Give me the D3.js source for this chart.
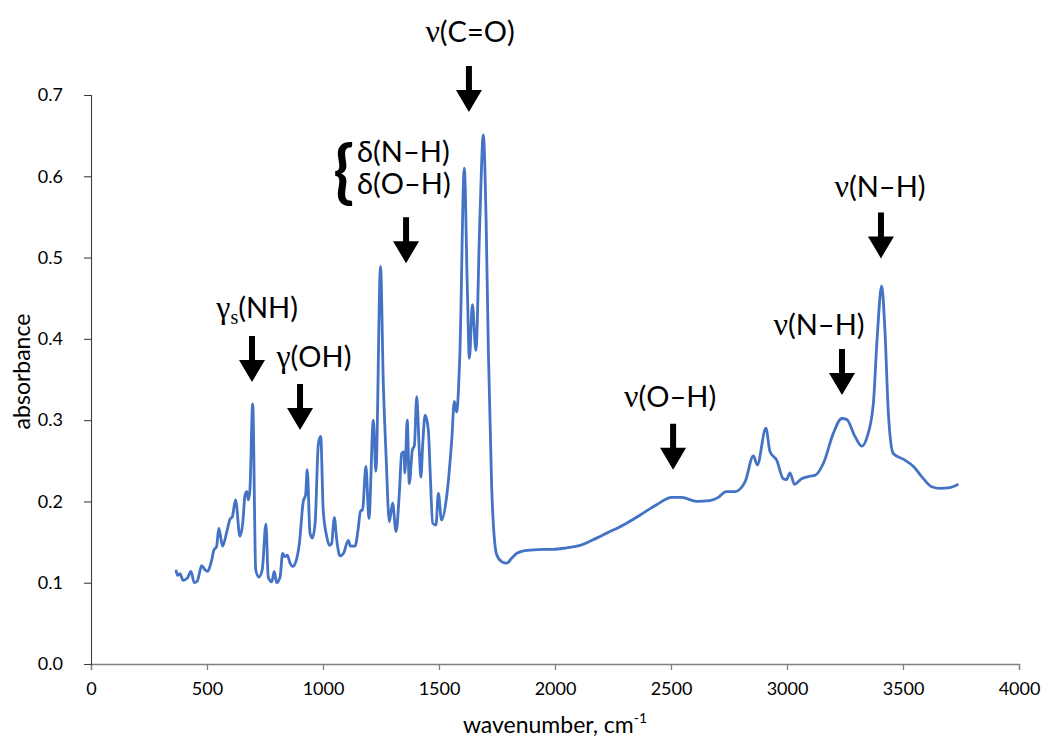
<!DOCTYPE html>
<html>
<head>
<meta charset="utf-8">
<script src="https://cdn.jsdelivr.net/npm/d3@7"></script>
<style>
  html, body { margin: 0; padding: 0; background: #fff; }
  svg { display: block; }
  text { font-family: Lato, "Open Sans", sans-serif; }
</style>
</head>
<body>
<div id="chart"></div>
<script>
// ---- data ----
const wavenumber = [366,373,383,397,416,431,445,458,477,491,503,517,531,541,551,567,584,599,609,623,642,654,664,672,678,685,697,710,724,738,754,764,779,790,800,815,826,836,846,858,869,883,898,915,925,932,944,954,966,980,990,1001,1016,1027,1037,1049,1059,1073,1088,1109,1119,1138,1152,1162,1170,1185,1198,1217,1228,1248,1260,1272,1286,1300,1315,1329,1339,1349,1353,1363,1372,1385,1394,1404,1415,1422,1430,1440,1454,1461,1473,1487,1497,1511,1533,1555,1566,1576,1590,1609,1622,1631,1644,1659,1676,1691,1703,1713,1727,1748,1770,1792,1813,1835,1860,1892,1950,1993,2050,2108,2165,2223,2295,2366,2438,2503,2546,2610,2668,2704,2737,2776,2819,2855,2872,2909,2927,2955,2984,2998,3013,3032,3063,3099,3120,3157,3200,3236,3257,3293,3322,3346,3372,3389,3408,3422,3437,3458,3501,3545,3588,3624,3659,3702,3739];
const absorbance = [0.116,0.109,0.111,0.103,0.106,0.114,0.100,0.102,0.121,0.116,0.114,0.124,0.141,0.144,0.167,0.145,0.161,0.178,0.181,0.202,0.157,0.173,0.208,0.212,0.202,0.214,0.320,0.116,0.107,0.116,0.172,0.107,0.101,0.114,0.100,0.107,0.136,0.132,0.134,0.124,0.120,0.126,0.148,0.200,0.208,0.239,0.161,0.155,0.173,0.271,0.280,0.189,0.157,0.146,0.148,0.180,0.153,0.133,0.136,0.152,0.145,0.145,0.167,0.189,0.189,0.243,0.179,0.300,0.237,0.489,0.345,0.255,0.175,0.198,0.163,0.210,0.259,0.261,0.235,0.300,0.222,0.263,0.269,0.329,0.263,0.230,0.271,0.306,0.288,0.243,0.173,0.171,0.210,0.177,0.206,0.276,0.323,0.310,0.382,0.610,0.464,0.376,0.442,0.386,0.546,0.651,0.546,0.382,0.218,0.135,0.126,0.124,0.130,0.136,0.139,0.140,0.141,0.141,0.143,0.146,0.153,0.161,0.171,0.183,0.196,0.205,0.205,0.200,0.201,0.205,0.212,0.212,0.224,0.256,0.245,0.290,0.261,0.251,0.228,0.227,0.235,0.221,0.228,0.231,0.232,0.247,0.284,0.302,0.301,0.280,0.268,0.280,0.320,0.403,0.465,0.411,0.308,0.259,0.252,0.243,0.228,0.218,0.216,0.217,0.221];

const xTicks = [0,500,1000,1500,2000,2500,3000,3500,4000];
const yTicks = [0,0.1,0.2,0.3,0.4,0.5,0.6,0.7];

// annotation arrows: tip position in data units
const arrowW = [694, 901, 1358, 1629, 2509, 3237, 3405];
const arrowA = [0.347, 0.288, 0.493, 0.679, 0.239, 0.331, 0.499];
// annotation labels (text anchor position in data units)
const labelGreek = ["γ", "γ", "", "ν", "ν", "ν", "ν"];
const labelSub   = ["s", "", "", "", "", "", ""];
const labelRest  = ["(NH)", "(OH)", "", "(C=O)", "(O–H)", "(N–H)", "(N–H)"];
const labelW = [716, 961, 0, 1634, 2496, 3138, 3401];
const labelA = [0.426, 0.365, 0, 0.765, 0.316, 0.405, 0.574];
const deltaLines = ["δ(N–H)", "δ(O–H)"];
const deltaW = 1147;
const deltaA = [0.618, 0.578];

// ---- layout ----
const W = 1044, H = 739;
const margin = {left: 91, right: 25, top: 95, bottom: 75};
const svg = d3.select("#chart").append("svg").attr("width", W).attr("height", H);

const x = d3.scaleLinear().domain([0, 4000]).range([margin.left, W - margin.right]);
const y = d3.scaleLinear().domain([0, 0.7]).range([H - margin.bottom, margin.top]);

// axes
const xAxis = d3.axisBottom(x).tickValues(xTicks).tickFormat(d3.format("d")).tickSizeOuter(0).tickSize(6).tickPadding(12);
const gx = svg.append("g").attr("transform", `translate(0,${y(0)})`).call(xAxis);
gx.select(".domain").attr("stroke", "#808080").attr("stroke-width", 1.3);
gx.selectAll(".tick line").attr("stroke", "#808080").attr("stroke-width", 1.3);
gx.selectAll(".tick text").attr("font-size", 18).attr("fill", "#000").attr("font-family", "Lato, sans-serif");

const yAxis = d3.axisLeft(y).tickValues(yTicks).tickFormat(d3.format(".1f")).tickSizeOuter(0).tickSize(7).tickPadding(21);
const gy = svg.append("g").attr("transform", `translate(${x(0)},0)`).call(yAxis);
gy.select(".domain").attr("stroke", "#404040").attr("stroke-width", 1.1);
gy.selectAll(".tick line").attr("stroke", "#404040").attr("stroke-width", 1.1);
gy.selectAll(".tick text").attr("font-size", 18).attr("fill", "#000").attr("font-family", "Lato, sans-serif");

// axis titles
const xt = svg.append("text").attr("x", (x(0) + x(4000)) / 2 + 0).attr("y", H - 6)
  .attr("text-anchor", "middle").attr("font-size", 23).attr("fill", "#000");
xt.append("tspan").text("wavenumber, cm");
xt.append("tspan").attr("font-size", 14).attr("dy", -10).text("-1");

svg.append("text").attr("transform", `translate(30,${(y(0) + y(0.7)) / 2 - 8}) rotate(-90)`)
  .attr("text-anchor", "middle").attr("font-size", 23).attr("fill", "#000").text("absorbance");

// spectrum line
const data = wavenumber.map((w, i) => [w, absorbance[i]]);
const line = d3.line().x(d => x(d[0])).y(d => y(d[1])).curve(d3.curveMonotoneX);
svg.append("path").datum(data).attr("d", line)
  .attr("fill", "none").attr("stroke", "#4472C4").attr("stroke-width", 2.8).attr("stroke-linejoin", "round");

// arrows
const arrowLen = 46, headW = 26, headH = 22, shaftW = 6;
arrowW.forEach((w, i) => {
  const tx = x(w), ty = y(arrowA[i]);
  const p = `M${tx - shaftW / 2},${ty - arrowLen} L${tx + shaftW / 2},${ty - arrowLen} L${tx + shaftW / 2},${ty - headH}
             L${tx + headW / 2},${ty - headH} L${tx},${ty} L${tx - headW / 2},${ty - headH} L${tx - shaftW / 2},${ty - headH} Z`;
  svg.append("path").attr("d", p).attr("fill", "#000");
});

// labels
const fs = 29;
labelGreek.forEach((g, i) => {
  if (!labelRest[i]) return;
  const t = svg.append("text").attr("x", x(labelW[i])).attr("y", y(labelA[i]))
    .attr("text-anchor", "middle").attr("font-size", fs).attr("fill", "#000");
  t.append("tspan").attr("font-family", "'Liberation Serif', serif").attr("font-size", fs + 3).text(g);
  if (labelSub[i]) {
    t.append("tspan").attr("font-family", "'Liberation Serif', serif").attr("font-size", 20).attr("dy", 6).text(labelSub[i]);
    t.append("tspan").attr("dy", -6).text(labelRest[i]);
  } else {
    t.append("tspan").text(labelRest[i]);
  }
});
deltaLines.forEach((s, i) => {
  svg.append("text").attr("x", x(deltaW)).attr("y", y(deltaA[i]))
    .attr("font-size", fs).attr("fill", "#000").text(s);
});
// brace
svg.append("text").attr("x", x(deltaW) - 3).attr("y", y((deltaA[0] + deltaA[1]) / 2) + 17)
  .attr("text-anchor", "end").attr("font-size", 68).attr("font-weight", "bold")
  .attr("font-family", "'DejaVu Sans', sans-serif").attr("fill", "#000").text("{");
</script>
</body>
</html>
